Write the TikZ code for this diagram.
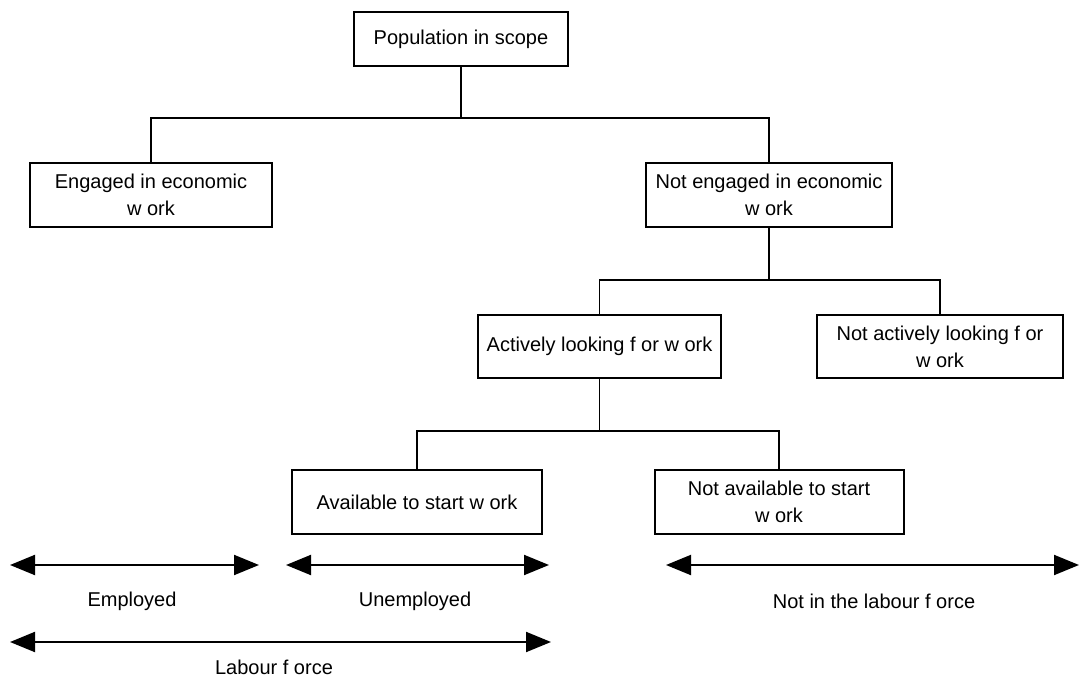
\documentclass[tikz,border=0pt]{standalone}
\usepackage{fontspec}
\setmainfont{Liberation Sans}
\usetikzlibrary{arrows.meta}

\begin{document}
\begin{tikzpicture}[x=1pt, y=-1pt, font=\fontsize{20}{27}\selectfont,
  bx/.style={draw, line width=2pt, align=center, inner sep=0pt, minimum height=64pt},
  ln/.style={line width=1.5pt},
  ar/.style={{Triangle[length=25pt, width=20pt]}-{Triangle[length=25pt, width=20pt]}, line width=2pt}]
\useasboundingbox (0,0) rectangle (1079,679);
\node[bx, minimum width=214pt, minimum height=54pt] (pop) at (461,39) {Population in scope};
\node[bx, minimum width=242pt] (eng) at (151,195) {Engaged in economic\\w ork};
\node[bx, minimum width=246pt] (neng) at (769,195) {Not engaged in economic\\w ork};
\node[bx, minimum width=243pt, minimum height=63pt] (act) at (599.5,346.5) {Actively looking f or w ork};
\node[bx, minimum width=246pt, minimum height=63pt] (nact) at (940,346.5) {Not actively looking f or\\w ork};
\node[bx, minimum width=250pt] (avail) at (417,502) {Available to start w ork};
\node[bx, minimum width=249pt] (navail) at (779,502) {Not available to start\\w ork};
% tree connectors
\draw[ln] (pop.south) -- ++(0,51) coordinate (j1);
\draw[ln] (eng.north) |- (j1) -| (neng.north);
\draw[ln] (neng.south) -- ++(0,52) coordinate (j2);
\draw[ln] (act.north) |- (j2) -| (nact.north);
\draw[ln] (act.south) -- ++(0,52) coordinate (j3);
\draw[ln] (avail.north) |- (j3) -| (navail.north);
% ranges
\coordinate (empL) at (10,565); \coordinate (empR) at (259,565);
\coordinate (unL) at (286,565); \coordinate (unR) at (549,565);
\coordinate (nlfL) at (666,565); \coordinate (nlfR) at (1079,565);
\coordinate (lfL) at (10,642); \coordinate (lfR) at (551,642);
\draw[ar] (empL) -- (empR);
\draw[ar] (unL) -- (unR);
\draw[ar] (nlfL) -- (nlfR);
\draw[ar] (lfL) -- (lfR);
\node (emp) at (132,601) {Employed};
\node (unemp) at (415,601) {Unemployed};
\node (nlf) at (874,601) {Not in the labour f orce};
\node (lf) at (274,667) {Labour f orce};
\end{tikzpicture}
\end{document}
